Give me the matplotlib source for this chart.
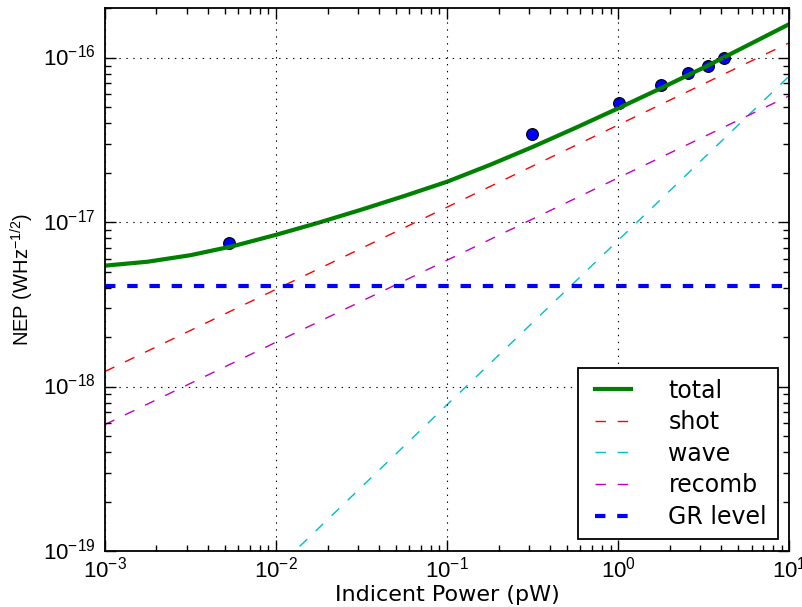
import matplotlib
matplotlib.use("Agg")
import matplotlib.pyplot as plt

plt.style.use("classic")
plt.rcParams.update({
    "font.family": ["Liberation Sans", "DejaVu Sans"],
    "mathtext.fontset": "custom",
    "mathtext.rm": "Liberation Sans",
    "mathtext.it": "Liberation Sans",
    "mathtext.bf": "Liberation Sans",
    "font.size": 16,
})

# Measured NEP points
meas_power = [5.31e-3, 0.312, 1.01, 1.78, 2.56, 3.36, 4.13]
meas_nep = [7.52e-18, 3.45e-17, 5.30e-17, 6.88e-17, 8.14e-17, 8.98e-17, 9.96e-17]

# Total NEP curve
total_power = [0.001, 0.00178, 0.00316, 0.00562, 0.01, 0.0178, 0.0316, 0.0562,
               0.1, 0.178, 0.316, 0.562, 1.0, 1.78, 3.16, 5.62, 10.0]
total_nep = [5.46e-18, 5.77e-18, 6.32e-18, 7.18e-18, 8.41e-18, 9.98e-18,
             1.197e-17, 1.449e-17, 1.770e-17, 2.24e-17, 2.88e-17, 3.76e-17,
             4.95e-17, 6.56e-17, 8.75e-17, 1.186e-16, 1.61e-16]

# Individual noise components
comp_power = [0.001, 0.01, 0.1, 1.0, 10.0]
shot_nep = [1.24e-18, 3.92e-18, 1.24e-17, 3.92e-17, 1.24e-16]
wave_nep = [7.8e-21, 7.8e-20, 7.8e-19, 7.8e-18, 7.8e-17]
recomb_nep = [5.9e-19, 1.87e-18, 5.9e-18, 1.87e-17, 5.9e-17]
gr_power = [0.001, 10.0]
gr_nep = [4.1e-18, 4.1e-18]

fig = plt.figure(figsize=(8.02, 6.07), dpi=100, facecolor="white")
ax = fig.add_axes([0.1309, 0.0918, 0.8535, 0.8942])
ax.set_facecolor("white")

dash = (7.5, 8.5)
ax.plot(meas_power, meas_nep, linestyle="none", marker="o", markersize=8.5,
        markerfacecolor="#0000ff", markeredgecolor="black", markeredgewidth=0.8)
ax.plot(total_power, total_nep, color="green", lw=3, label="total")
ax.plot(comp_power, shot_nep, color="red", lw=1, dashes=dash, label="shot")
ax.plot(comp_power, wave_nep, color="c", lw=1, dashes=dash, label="wave")
ax.plot(comp_power, recomb_nep, color="m", lw=1, dashes=dash, label="recomb")
ax.plot(gr_power, gr_nep, color="blue", lw=3, dashes=dash, label="GR level")

ax.set_xscale("log")
ax.set_yscale("log")
ax.set_xlim(1e-3, 10)
ax.set_ylim(1e-19, 2e-16)

ax.grid(True, which="major", color="black", linestyle=(0, (1, 4)), linewidth=0.8)
ax.tick_params(which="both", direction="in", top=True, right=True)
ax.tick_params(which="major", length=8, width=1, labelsize=16)
ax.tick_params(which="minor", length=4, width=1)
ax.tick_params(axis="x", which="major", pad=3.5)
ax.tick_params(axis="y", which="major", pad=6.5)
for s in ax.spines.values():
    s.set_linewidth(1.3)

ax.set_xlabel("Indicent Power (pW)", fontsize=16, family="DejaVu Sans",
              labelpad=2)
ax.set_ylabel(r"NEP (WHz$^{\mathdefault{-1/2}}$)", fontsize=14.5, labelpad=5)

leg = ax.legend(loc="lower right", handlelength=2.1,
                prop={"family": "DejaVu Sans", "size": 17},
                handletextpad=1.3, borderpad=0.45, labelspacing=0.32,
                borderaxespad=0.5, fancybox=False, frameon=True)
leg.get_frame().set_edgecolor("black")
leg.get_frame().set_linewidth(1.3)

fig.savefig("out.png", dpi=100, facecolor="white")
